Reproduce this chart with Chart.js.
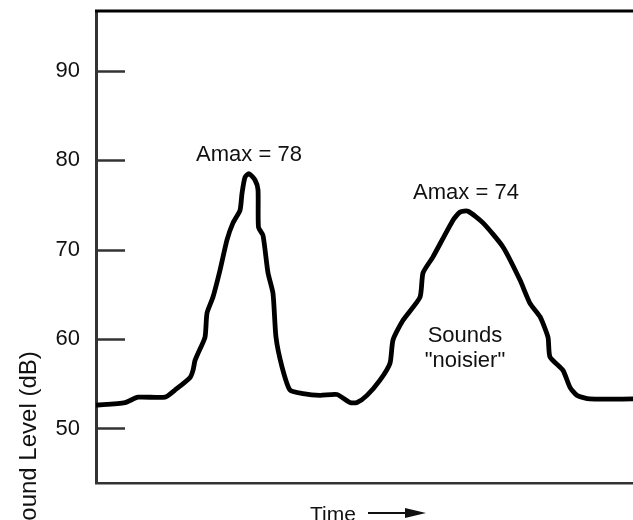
<!DOCTYPE html>
<html>
<head>
<meta charset="utf-8">
<script src="https://cdn.jsdelivr.net/npm/chart.js@4"></script>
<style>
  html, body { margin: 0; padding: 0; background: #fff; }
  canvas { display: block; }
</style>
</head>
<body>
<canvas id="c" width="633" height="520"></canvas>
<script>
// Time (arbitrary units) and sound level (dB)
const timeValues = [0, 29, 42, 69, 79, 94, 97, 99, 102, 109, 111, 117, 124, 131, 137, 144, 146, 149, 153,
  159, 162, 162.5, 167, 172, 177, 180, 186, 194, 207, 224, 241, 254, 261, 271, 284, 294, 297, 307,
  324, 327, 337, 357, 364, 372, 387, 407, 424, 434, 444, 452, 454, 467, 474, 481, 494, 537];
const levelValues = [52.6, 52.9, 53.5, 53.5, 54.3, 55.7, 56.5, 57.6, 58.4, 60.2, 62.9, 64.7, 67.7, 71.1, 73.0, 74.4, 76.3, 78.1, 78.5,
  77.8, 76.7, 72.5, 71.6, 67.4, 65.1, 60.2, 56.9, 54.3, 53.9, 53.7, 53.8, 52.9, 52.9, 53.7, 55.4, 57.3, 59.9, 62.1,
  64.7, 67.4, 69.2, 73.3, 74.2, 74.3, 73.0, 70.3, 66.6, 64.0, 62.5, 60.2, 58.0, 56.5, 54.6, 53.7, 53.3, 53.3];
const yTickValues = [50, 60, 70, 80, 90];
const yTitle = 'Sound Level (dB)';
const xTitle = 'Time';
const noteTexts = ['Amax = 78', 'Amax = 74', 'Sounds', '"noisier"'];
const noteTimes = [153, 370, 369, 369];
const noteLevels = [80.6, 76.3, 60.3, 57.6];

const FONT = '"Liberation Sans", Arial, Helvetica, sans-serif';

const points = timeValues.map((t, i) => ({ x: t, y: levelValues[i] }));

const decorPlugin = {
  id: 'decor',
  afterDraw(chart) {
    const ctx = chart.ctx;
    const a = chart.chartArea;
    const ys = chart.scales.y, xs = chart.scales.x;
    ctx.save();
    // inner tick marks
    ctx.strokeStyle = '#333';
    ctx.lineWidth = 2.5;
    yTickValues.forEach(v => {
      const py = Math.round(ys.getPixelForValue(v)) + 0.5;
      ctx.beginPath();
      ctx.moveTo(a.left, py);
      ctx.lineTo(a.left + 29, py);
      ctx.stroke();
    });
    // top border
    ctx.strokeStyle = '#000';
    ctx.lineWidth = 3;
    ctx.beginPath();
    ctx.moveTo(a.left - 1, a.top);
    ctx.lineTo(chart.width, a.top);
    ctx.stroke();
    // notes
    ctx.fillStyle = '#111';
    ctx.font = '22px ' + FONT;
    ctx.textAlign = 'center';
    ctx.textBaseline = 'middle';
    noteTexts.forEach((s, i) => {
      ctx.fillText(s, xs.getPixelForValue(noteTimes[i]), ys.getPixelForValue(noteLevels[i]));
    });
    // y title
    ctx.save();
    ctx.translate(29, 444);
    ctx.rotate(-Math.PI / 2);
    ctx.font = '24px ' + FONT;
    ctx.textAlign = 'center';
    ctx.textBaseline = 'middle';
    ctx.fillText(yTitle, 0, 0);
    ctx.restore();
    // x title with arrow
    ctx.font = '21px ' + FONT;
    ctx.textAlign = 'left';
    ctx.textBaseline = 'alphabetic';
    ctx.fillText(xTitle, 310, 521);
    ctx.strokeStyle = '#111';
    ctx.lineWidth = 2;
    ctx.beginPath();
    ctx.moveTo(368, 513);
    ctx.lineTo(410, 513);
    ctx.stroke();
    ctx.beginPath();
    ctx.moveTo(426, 513);
    ctx.lineTo(405, 508);
    ctx.lineTo(405, 518);
    ctx.closePath();
    ctx.fill();
    ctx.restore();
  }
};

new Chart(document.getElementById('c'), {
  type: 'line',
  data: {
    datasets: [{
      data: points,
      borderColor: '#000',
      borderWidth: 4.8,
      pointRadius: 0,
      tension: 0.2,
      fill: false,
      borderCapStyle: 'round',
      borderJoinStyle: 'round'
    }]
  },
  options: {
    responsive: false,
    animation: false,
    layout: { padding: { top: 11, left: 0, right: 0, bottom: 0 } },
    plugins: { legend: { display: false }, tooltip: { enabled: false } },
    scales: {
      x: {
        type: 'linear',
        min: 0,
        max: 537,
        ticks: { display: false },
        grid: { display: false, drawTicks: false },
        border: { display: true, color: '#333', width: 2.5 },
        afterFit(s) { s.height = 37; s.paddingLeft = 0; s.paddingRight = 0; }
      },
      y: {
        min: 43.9,
        max: 96.7,
        afterBuildTicks(s) { s.ticks = yTickValues.map(v => ({ value: v })); },
        ticks: {
          color: '#111',
          padding: 16,
          font: { family: FONT, size: 22 }
        },
        grid: { display: false, drawTicks: false },
        border: { display: true, color: '#333', width: 3 },
        afterFit(s) { s.width = 96; s.paddingTop = 0; s.paddingBottom = 0; }
      }
    }
  },
  plugins: [decorPlugin]
});
</script>
</body>
</html>
